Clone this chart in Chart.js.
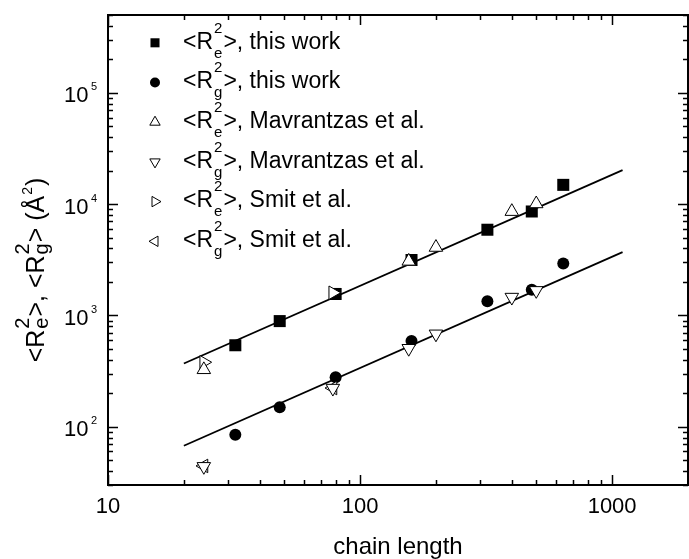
<!DOCTYPE html>
<html>
<head>
<meta charset="utf-8">
<script src="https://cdn.jsdelivr.net/npm/chart.js@4/dist/chart.umd.min.js"></script>
<style>
  html, body { margin: 0; padding: 0; background: #ffffff; }
  #wrap { width: 689px; height: 559px; }
</style>
</head>
<body>
<div id="wrap"><canvas id="c" width="689" height="559"></canvas></div>
<script>
// Mean-square end-to-end distance and radius of gyration vs. chain length
const chainThis   = [32, 48, 80, 160, 320, 480, 640];
const re2This     = [540, 890, 1560, 3150, 5890, 8590, 14900];
const rg2This     = [85, 150, 278, 590, 1343, 1700, 2925];

const chainMavRe  = [24, 156, 200, 400, 500];
const re2Mav      = [326, 3070, 4090, 8590, 10070];
const chainMavRg  = [24, 78, 156, 200, 400, 500];
const rg2Mav      = [44, 222, 506, 682, 1458, 1675];

const chainSmit   = [24, 78];
const re2Smit     = [380, 1600];
const rg2Smit     = [44.5, 223];

// power-law fits (endpoints)
const fitChain    = [20, 1100];
const fitRe2      = [370, 20200];
const fitRg2      = [67.5, 3710];

const xTickLabels = [10, 100, 1000];
const yTickExps   = [2, 3, 4, 5];

const FAMILY = '"Liberation Sans", Arial, Helvetica, sans-serif';

function pts(xs, ys) { return xs.map((x, i) => ({ x: x, y: ys[i] })); }

// --- tiny rich-text helper: "_{sub}" and "^{sup}" (stacked when adjacent) ---
function parseRich(str) {
  const out = []; let i = 0; let buf = '';
  function group() { const j = str.indexOf('}', i); const g = str.slice(i + 1, j); i = j + 1; return g; }
  while (i < str.length) {
    const c = str[i];
    if ((c === '_' || c === '^') && str[i + 1] === '{') {
      if (buf) { out.push({ t: 'txt', s: buf }); buf = ''; }
      let sub = null, sup = null;
      while (i < str.length && (str[i] === '_' || str[i] === '^') && str[i + 1] === '{') {
        const k = str[i]; i++; const g = group();
        if (k === '_') sub = g; else sup = g;
      }
      out.push({ t: 'scr', sub: sub, sup: sup });
    } else { buf += c; i++; }
  }
  if (buf) out.push({ t: 'txt', s: buf });
  return out;
}
function drawRich(ctx, str, x, y, o, align) {
  const parts = parseRich(str);
  let w = 0;
  for (const p of parts) {
    if (p.t === 'txt') {
      ctx.font = o.size + 'px ' + FAMILY;
      p.w = ctx.measureText(p.s).width;
    } else {
      p.stacked = p.sub !== null && p.sup !== null;
      p.sz = p.stacked ? o.stackSize : o.supSize;
      ctx.font = p.sz + 'px ' + FAMILY;
      const ws = p.sub !== null ? ctx.measureText(p.sub).width : 0;
      const wp = p.sup !== null ? ctx.measureText(p.sup).width : 0;
      p.w = Math.max(ws, wp) + (o.lead || 0) + (o.trail || 0);
    }
    w += p.w;
  }
  let cx = align === 'center' ? x - w / 2 : (align === 'right' ? x - w : x);
  ctx.textAlign = 'left';
  ctx.textBaseline = 'alphabetic';
  for (const p of parts) {
    if (p.t === 'txt') {
      ctx.font = o.size + 'px ' + FAMILY;
      ctx.fillText(p.s, cx, y);
    } else {
      ctx.font = p.sz + 'px ' + FAMILY;
      const up = p.stacked ? o.stackUp : o.supUp;
      if (p.sup !== null) ctx.fillText(p.sup, cx + (o.lead || 0), y - up);
      if (p.sub !== null) ctx.fillText(p.sub, cx + (o.lead || 0), y + o.stackDown);
    }
    cx += p.w;
  }
  return w;
}

function markerPath(ctx, style, rot, r, x, y) {
  ctx.beginPath();
  if (style === 'rect') {
    const s = Math.SQRT1_2 * r;
    ctx.rect(x - s, y - s, 2 * s, 2 * s);
  } else if (style === 'circle') {
    ctx.arc(x, y, r, 0, Math.PI * 2);
  } else {
    let rad = rot * Math.PI / 180;
    ctx.moveTo(x + Math.sin(rad) * r, y - Math.cos(rad) * r);
    rad += 2 * Math.PI / 3;
    ctx.lineTo(x + Math.sin(rad) * r, y - Math.cos(rad) * r);
    rad += 2 * Math.PI / 3;
    ctx.lineTo(x + Math.sin(rad) * r, y - Math.cos(rad) * r);
    ctx.closePath();
  }
}

// frame, inward ticks, tick labels, titles and key
const decorations = {
  id: 'decorations',
  afterDraw(chart) {
    const ctx = chart.ctx;
    const a = chart.chartArea;
    const xs = chart.scales.x, ys = chart.scales.y;
    ctx.save();
    ctx.strokeStyle = '#000';
    ctx.fillStyle = '#000';

    // ticks
    ctx.lineWidth = 1.5;
    const MAJ = 10, MIN = 5;
    for (let d = 1; d <= 1e6; d *= 10) {
      for (let m = 1; m <= 9; m++) {
        const v = m * d;
        const len = m === 1 ? MAJ : MIN;
        if (v >= xs.min && v <= xs.max) {
          const px = Math.round(xs.getPixelForValue(v)) + 0.5;
          ctx.beginPath();
          ctx.moveTo(px, a.bottom); ctx.lineTo(px, a.bottom - len);
          ctx.moveTo(px, a.top); ctx.lineTo(px, a.top + len);
          ctx.stroke();
        }
        if (v >= ys.min && v <= ys.max) {
          const py = Math.round(ys.getPixelForValue(v)) + 0.5;
          ctx.beginPath();
          ctx.moveTo(a.left, py); ctx.lineTo(a.left + len, py);
          ctx.moveTo(a.right, py); ctx.lineTo(a.right - len, py);
          ctx.stroke();
        }
      }
    }

    // frame
    ctx.lineWidth = 2;
    ctx.strokeRect(a.left, a.top, a.right - a.left, a.bottom - a.top);

    // x tick labels
    ctx.font = '22px ' + FAMILY;
    ctx.textAlign = 'center';
    ctx.textBaseline = 'alphabetic';
    for (const v of xTickLabels) {
      ctx.fillText(String(v), xs.getPixelForValue(v), 513);
    }
    // y tick labels: 10^n
    for (const e of yTickExps) {
      const py = ys.getPixelForValue(Math.pow(10, e));
      ctx.font = '22px ' + FAMILY;
      ctx.textAlign = 'right';
      ctx.fillText('10', 88.5, py + 9.5);
      ctx.font = '11px ' + FAMILY;
      ctx.textAlign = 'left';
      ctx.fillText(String(e), 91, py - 2.5);
    }

    // x title
    ctx.font = '24px ' + FAMILY;
    ctx.textAlign = 'center';
    ctx.fillText('chain length', (a.left + a.right) / 2, 554);

    // y title
    ctx.save();
    ctx.translate(43.5, 270);
    ctx.rotate(-Math.PI / 2);
    drawRich(ctx, '<R_{e}^{2}>, <R_{g}^{2}> (Å^{2})', 0, 0,
      { size: 25, stackSize: 20, stackUp: 15, stackDown: 4, supSize: 14, supUp: 12, lead: 1, trail: 1 }, 'center');
    ctx.restore();

    // key
    const items = chart.data.datasets.filter(ds => ds.type === 'scatter');
    const keyX = 155, textX = 183, row0 = 42.8, rowGap = 39.7;
    items.forEach((ds, i) => {
      const y = row0 + i * rowGap;
      ctx.lineWidth = 1;
      ctx.fillStyle = ds.backgroundColor;
      ctx.strokeStyle = '#000';
      const r = ds.pointStyle === 'rect' ? 6.4 : (ds.pointStyle === 'circle' ? 5 : 6);
      markerPath(ctx, ds.pointStyle, ds.pointRotation || 0, r, keyX, y);
      ctx.fill();
      if (ds.borderWidth > 0) ctx.stroke();
      ctx.fillStyle = '#000';
      drawRich(ctx, ds.label, textX, y + 5.8,
        { size: 23, stackSize: 15, stackUp: 16, stackDown: 9, supSize: 15, supUp: 16, lead: 1, trail: 1 }, 'left');
    });
    ctx.restore();
  }
};

new Chart(document.getElementById('c'), {
  data: {
    datasets: [
      { type: 'scatter', label: '<R_{e}^{2}>, this work', data: pts(chainThis, re2This),
        pointStyle: 'rect', pointRadius: 8.5, pointHoverRadius: 8.5, backgroundColor: '#000', borderColor: '#000', borderWidth: 0, order: 5 },
      { type: 'scatter', label: '<R_{g}^{2}>, this work', data: pts(chainThis, rg2This),
        pointStyle: 'circle', pointRadius: 6, pointHoverRadius: 6, backgroundColor: '#000', borderColor: '#000', borderWidth: 0, order: 5 },
      { type: 'scatter', label: '<R_{e}^{2}>, Mavrantzas et al.', data: pts(chainMavRe, re2Mav),
        pointStyle: 'triangle', pointRotation: 0, pointRadius: 7.8, pointHoverRadius: 7.8, backgroundColor: '#fff', borderColor: '#000', borderWidth: 1, order: 1 },
      { type: 'scatter', label: '<R_{g}^{2}>, Mavrantzas et al.', data: pts(chainMavRg, rg2Mav),
        pointStyle: 'triangle', pointRotation: 180, pointRadius: 7.8, pointHoverRadius: 7.8, backgroundColor: '#fff', borderColor: '#000', borderWidth: 1, order: 1 },
      { type: 'scatter', label: '<R_{e}^{2}>, Smit et al.', data: pts(chainSmit, re2Smit),
        pointStyle: 'triangle', pointRotation: 90, pointRadius: 7.8, pointHoverRadius: 7.8, backgroundColor: '#fff', borderColor: '#000', borderWidth: 1, order: 1 },
      { type: 'scatter', label: '<R_{g}^{2}>, Smit et al.', data: pts(chainSmit, rg2Smit),
        pointStyle: 'triangle', pointRotation: 270, pointRadius: 7.8, pointHoverRadius: 7.8, backgroundColor: '#fff', borderColor: '#000', borderWidth: 1, order: 1 },
      { type: 'line', label: 'fit Re2', data: pts(fitChain, fitRe2),
        borderColor: '#000', borderWidth: 1.8, pointRadius: 0, fill: false, order: 10 },
      { type: 'line', label: 'fit Rg2', data: pts(fitChain, fitRg2),
        borderColor: '#000', borderWidth: 1.8, pointRadius: 0, fill: false, order: 10 }
    ]
  },
  options: {
    responsive: false,
    animation: false,
    devicePixelRatio: 1,
    events: [],
    layout: { autoPadding: false, padding: { left: 108, right: 1, top: 15, bottom: 74 } },
    plugins: { legend: { display: false }, tooltip: { enabled: false } },
    scales: {
      x: { type: 'logarithmic', min: 10, max: 2000, display: false },
      y: { type: 'logarithmic', min: 30, max: 500000, display: false }
    }
  },
  plugins: [decorations]
});
</script>
</body>
</html>
